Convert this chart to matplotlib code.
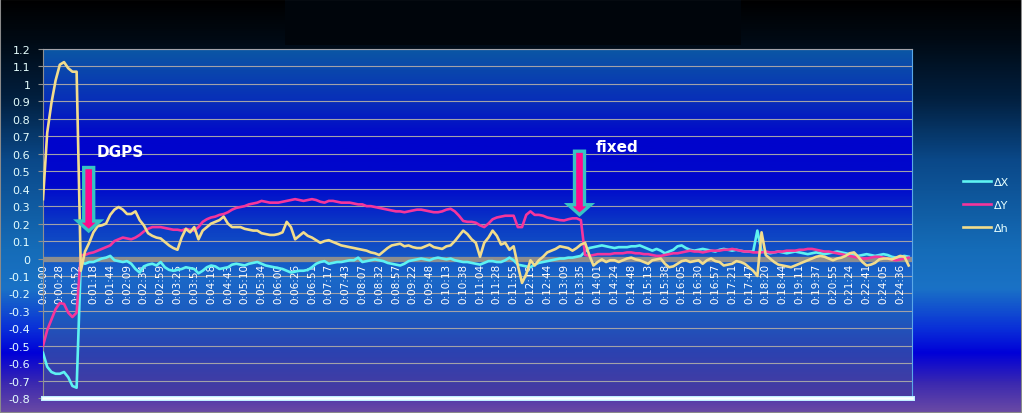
import numpy as np
import matplotlib.pyplot as plt
from matplotlib.colors import LinearSegmentedColormap
from matplotlib.patches import FancyArrow, Rectangle

# tick labels (one every 4 samples)
time_labels = ['0:00:00', '0:00:28', '0:00:52', '0:01:18', '0:01:44', '0:02:09', '0:02:34',
               '0:02:59', '0:03:25', '0:03:52', '0:04:18', '0:04:43', '0:05:10', '0:05:34',
               '0:06:00', '0:06:26', '0:06:51', '0:07:17', '0:07:43', '0:08:07', '0:08:32',
               '0:08:57', '0:09:22', '0:09:48', '0:10:13', '0:10:38', '0:11:04', '0:11:28',
               '0:11:55', '0:12:19', '0:12:44', '0:13:09', '0:13:35', '0:14:01', '0:14:24',
               '0:14:48', '0:15:13', '0:15:38', '0:16:05', '0:16:30', '0:16:57', '0:17:21',
               '0:17:47', '0:18:20', '0:18:44', '0:19:11', '0:19:37', '0:20:55', '0:21:24',
               '0:22:41', '0:24:05', '0:24:36']

dx = [-0.54, -0.62, -0.65, -0.66, -0.66, -0.65, -0.68, -0.73, -0.74, -0.02,
      -0.03, -0.02, -0.02, -0.01, 0.0, 0.005, 0.015, -0.01, -0.015, -0.02,
      -0.015, -0.03, -0.06, -0.08, -0.045, -0.035, -0.03, -0.04, -0.02, -0.05,
      -0.065, -0.07, -0.065, -0.06, -0.05, -0.055, -0.06, -0.085, -0.07, -0.05,
      -0.04, -0.045, -0.06, -0.055, -0.05, -0.035, -0.03, -0.035, -0.04, -0.03,
      -0.025, -0.02, -0.03, -0.04, -0.045, -0.05, -0.055, -0.06, -0.07, -0.08,
      -0.075, -0.07, -0.07, -0.065, -0.05, -0.03, -0.02, -0.015, -0.03, -0.025,
      -0.02, -0.02, -0.015, -0.01, -0.01, 0.005, -0.02, -0.015, -0.01, -0.005,
      -0.01, -0.015, -0.025, -0.03, -0.035, -0.04, -0.03, -0.015, -0.01, -0.005,
      0.0, -0.005, -0.01, 0.0, 0.005, 0.0, -0.005, 0.0, -0.01, -0.015,
      -0.02, -0.02, -0.025, -0.03, -0.035, -0.025, -0.015, -0.015, -0.02, -0.02,
      -0.01, 0.005, -0.01, -0.035, -0.04, -0.045, -0.05, -0.035, -0.025, -0.02,
      -0.015, -0.01, -0.005, 0.0, 0.0, 0.005, 0.005, 0.01, 0.015, 0.04,
      0.06, 0.065, 0.07, 0.075, 0.07, 0.065, 0.06, 0.065, 0.065, 0.065,
      0.07, 0.07, 0.075, 0.065, 0.055, 0.045, 0.055, 0.045, 0.03, 0.04,
      0.05, 0.07, 0.075, 0.06, 0.05, 0.045, 0.05, 0.055, 0.05, 0.045,
      0.04, 0.05, 0.055, 0.05, 0.045, 0.05, 0.045, 0.04, 0.04, 0.04,
      0.16, 0.04, 0.035, 0.03, 0.035, 0.04, 0.035, 0.03, 0.035, 0.04,
      0.035, 0.03, 0.025, 0.03, 0.035, 0.03, 0.025, 0.03, 0.035, 0.04,
      0.035, 0.03, 0.025, 0.02, 0.015, 0.02, 0.025, 0.02, 0.015, 0.02,
      0.025, 0.02, 0.01, 0.005, 0.01, 0.015, 0.01]

dy = [-0.50, -0.41, -0.35, -0.29, -0.255, -0.26, -0.31, -0.335, -0.31, 0.02,
      0.02, 0.03, 0.035, 0.045, 0.055, 0.065, 0.075, 0.10, 0.11, 0.12,
      0.115, 0.11, 0.12, 0.135, 0.155, 0.17, 0.18, 0.18, 0.18, 0.175,
      0.17, 0.165, 0.165, 0.16, 0.17, 0.165, 0.16, 0.18, 0.21, 0.225,
      0.235, 0.24, 0.25, 0.255, 0.265, 0.28, 0.29, 0.295, 0.30, 0.31,
      0.315, 0.32, 0.33, 0.325, 0.32, 0.32, 0.32, 0.325, 0.33, 0.335,
      0.34, 0.335, 0.33, 0.335, 0.34, 0.335, 0.325, 0.32, 0.33, 0.33,
      0.325, 0.32, 0.32, 0.32, 0.315, 0.31, 0.31, 0.30, 0.30, 0.295,
      0.29, 0.285, 0.28, 0.275, 0.27, 0.27, 0.265, 0.27, 0.275, 0.28,
      0.28, 0.275, 0.27, 0.265, 0.265, 0.27, 0.28, 0.285, 0.27, 0.245,
      0.215, 0.21, 0.21, 0.205, 0.19, 0.18, 0.20, 0.225, 0.235, 0.24,
      0.245, 0.245, 0.245, 0.18, 0.18, 0.25, 0.27, 0.25, 0.25, 0.245,
      0.235, 0.23, 0.225, 0.22, 0.218, 0.225, 0.23, 0.23, 0.22, 0.02,
      0.015, 0.02, 0.025, 0.025, 0.025, 0.025, 0.03, 0.03, 0.03, 0.035,
      0.035, 0.03, 0.03, 0.025, 0.025, 0.02, 0.015, 0.015, 0.02, 0.025,
      0.03, 0.03, 0.035, 0.04, 0.045, 0.04, 0.04, 0.035, 0.04, 0.045,
      0.045, 0.045, 0.05, 0.05, 0.055, 0.05, 0.045, 0.04, 0.04, 0.035,
      0.035, 0.035, 0.04, 0.035, 0.035, 0.04, 0.04, 0.045, 0.045, 0.045,
      0.05, 0.05, 0.055, 0.055, 0.05, 0.045, 0.04, 0.04, 0.035, 0.03,
      0.025, 0.02, 0.015, 0.01, 0.005, 0.0, 0.0, 0.005, 0.01, 0.01,
      0.005, 0.0, -0.005, -0.01, -0.005, 0.0, 0.005]

dh = [0.34, 0.72, 0.89, 1.02, 1.11, 1.125, 1.09, 1.07, 1.07, -0.07,
      0.04, 0.09, 0.15, 0.185, 0.19, 0.20, 0.25, 0.28, 0.295, 0.28,
      0.255, 0.255, 0.27, 0.22, 0.19, 0.145, 0.13, 0.12, 0.115, 0.095,
      0.075, 0.06, 0.05, 0.12, 0.17, 0.15, 0.18, 0.11, 0.16, 0.18,
      0.20, 0.21, 0.22, 0.24, 0.20, 0.18, 0.18, 0.18, 0.17, 0.165,
      0.16, 0.16, 0.145, 0.14, 0.135, 0.135, 0.14, 0.15, 0.21, 0.18,
      0.11, 0.13, 0.15, 0.13, 0.12, 0.105, 0.09, 0.10, 0.105, 0.095,
      0.085, 0.075, 0.07, 0.065, 0.06, 0.055, 0.05, 0.045, 0.035, 0.03,
      0.02, 0.04, 0.06, 0.075, 0.08, 0.085, 0.07, 0.075, 0.065, 0.06,
      0.06, 0.07, 0.08, 0.065, 0.06, 0.055, 0.07, 0.075, 0.10, 0.13,
      0.16, 0.14, 0.11, 0.09, 0.01, 0.09, 0.12, 0.16, 0.13, 0.08,
      0.09, 0.05, 0.07, -0.04, -0.14, -0.09, -0.01, -0.04, -0.01, 0.01,
      0.035, 0.045, 0.055, 0.07, 0.065, 0.06, 0.045, 0.06, 0.08, 0.09,
      0.02, -0.04, -0.02, -0.005, -0.02, -0.01, -0.01, -0.02, -0.01, 0.0,
      0.005, -0.005, -0.01, -0.02, -0.03, -0.01, -0.005, 0.0, -0.03, -0.05,
      -0.045, -0.03, -0.015, -0.01, -0.02, -0.015, -0.01, -0.03, -0.01, 0.0,
      -0.015, -0.02, -0.04, -0.035, -0.03, -0.015, -0.02, -0.03, -0.05, -0.07,
      -0.10, 0.15, 0.02, 0.0, -0.02, -0.035, -0.04, -0.045, -0.05, -0.04,
      -0.03, -0.02, -0.01, 0.0, 0.01, 0.015, 0.01, 0.0, -0.01, 0.0,
      0.005, 0.015, 0.03, 0.035, 0.01, -0.02, -0.04, -0.035, -0.025, -0.005,
      0.0, 0.0, -0.005, 0.005, 0.015, 0.01, -0.04]

series_names = ['ΔX', 'ΔY', 'Δh']
series_colors = ['#5ef2f2', '#f5359c', '#f2dc8c']

W, H = 1022, 414
fig = plt.figure(figsize=(W / 100, H / 100), dpi=100)

# figure background gradient
bg = fig.add_axes([0, 0, 1, 1], zorder=-10)
bg_cmap = LinearSegmentedColormap.from_list('bg', [
    (0, '#000000'), (40 / H, '#000a14'), (100 / H, '#022040'), (160 / H, '#0a4888'),
    (250 / H, '#156cb8'), (290 / H, '#1a72c6'), (330 / H, '#0a30d8'), (355 / H, '#0000d8'),
    (385 / H, '#3a28b0'), (1, '#6a4aa4')])
bg.imshow(np.linspace(0, 1, 500).reshape(-1, 1), cmap=bg_cmap, aspect='auto',
          extent=[0, 1, 0, 1])
bg.add_patch(Rectangle((285 / W, 1 - 46 / H), (741 - 285) / W, 46 / H, color='#00050b', lw=0))
bg.add_patch(Rectangle((0, 0), 1, 1, fill=False, edgecolor='#8a8a8a', lw=1.5))
bg.set_xlim(0, 1)
bg.set_ylim(0, 1)
bg.axis('off')

top_px, bot_px, left_px, right_px = 50, 399.2, 43, 912
ax = fig.add_axes([left_px / W, (H - bot_px) / H, (right_px - left_px) / W, (bot_px - top_px) / H])
n = len(dx)
xs = np.arange(n)
xmax = 206.8
ymin, ymax = -0.8, 1.2

plot_cmap = LinearSegmentedColormap.from_list('pa', [
    (0, '#0b57a4'), (0.143, '#0830b8'), (0.258, '#0004cc'), (0.39, '#0008cc'),
    (0.52, '#0c40c4'), (0.66, '#1a68c8'), (0.76, '#1c5cc0'), (0.87, '#2c42b0'), (1, '#4a3aa0')])
ax.imshow(np.linspace(0, 1, 400).reshape(-1, 1), cmap=plot_cmap, aspect='auto',
          extent=[0, xmax, ymin, ymax], zorder=0)

ax.set_axisbelow(True)
ax.yaxis.grid(True, color='#a2a2a8', lw=0.8)
ax.axhline(0, color='#8e8e8e', lw=3.8, zorder=1)

# category labels sit just under the zero line, rotated
tick_pos = xs[::4]
for xp, lab in zip(tick_pos, time_labels):
    ax.annotate(lab, (xp, 0), xytext=(0, -3.2), textcoords='offset points',
                rotation=90, ha='center', va='top', fontsize=7.5, color='white', zorder=2)

lines = []
for vals, name, col in zip([dx, dy, dh], series_names, series_colors):
    ln, = ax.plot(xs, vals, color=col, lw=1.9, label=name, zorder=3, solid_joinstyle='round')
    lines.append(ln)

ax.axhline(ymin, color='#bfeeff', lw=3.6, zorder=4, clip_on=False)
ax.axhline(ymin, color='white', lw=1.8, zorder=4.1, clip_on=False)

ax.set_xlim(0, xmax)
ax.set_ylim(ymin, ymax)

yt = np.round(np.arange(-8, 13) * 0.1, 1)
ax.set_yticks(yt)
ax.set_yticklabels(['0' if abs(v) < 1e-9 else f'{v:g}' for v in yt])
ax.tick_params(axis='y', colors='#909090', labelcolor='#e6ffff', labelsize=8,
               length=3.6, width=0.8, pad=5.5)
ax.set_xticks([])

ax.spines['bottom'].set_visible(False)
ax.spines['left'].set_color('#909090')
ax.spines['top'].set_color('#a2a2a8')
ax.spines['top'].set_linewidth(0.8)
ax.spines['right'].set_color('#5aa8e8')

# annotations
ax.text((97 - left_px) / 4.2, 0.589, 'DGPS', color='white', fontsize=11, fontweight='bold',
        ha='left', va='baseline', zorder=6)
ax.text((595 - left_px) / 4.2, 0.617, 'fixed', color='white', fontsize=11, fontweight='bold',
        ha='left', va='baseline', zorder=6)

for cx, ytop, ytip in [(88.7, 168.5, 232.0), (579.5, 152.2, 215.7)]:
    arr = FancyArrow(cx / 100, (H - ytop) / 100, 0, -(ytip - ytop) / 100,
                     width=0.10, head_width=0.225, head_length=0.10,
                     length_includes_head=True, facecolor='#ff0a8c', edgecolor='#36c4c4',
                     lw=2.4, transform=fig.dpi_scale_trans, clip_on=False, zorder=7)
    ax.add_patch(arr)

fig.legend(handles=lines, labels=series_names, loc='center left',
           bbox_to_anchor=(963 / W, (H - 206) / H), frameon=False, fontsize=8,
           labelcolor='#e6ffff', handlelength=2.5, handletextpad=0.25,
           labelspacing=1.15, borderpad=0, borderaxespad=0)

fig.savefig('out.png', dpi=100)
